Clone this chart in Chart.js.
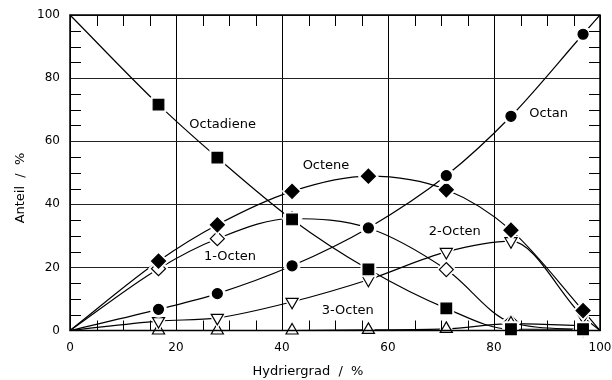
<!DOCTYPE html>
<html>
<head>
<meta charset="utf-8">
<script src="https://cdn.jsdelivr.net/npm/chart.js@4/dist/chart.umd.min.js"></script>
<style>
  html, body { margin: 0; padding: 0; background: #fff; }
  canvas { display: block; }
</style>
</head>
<body>
<canvas id="c" width="612" height="380"></canvas>
<script>
// Hydriergrad (%) of the measured samples
const hydriergrad = [16.7, 27.8, 41.9, 56.3, 71.0, 83.2, 96.8];

// Anteil (%) of each component at those samples
const octadiene = [71.6, 54.8, 35.2, 19.4, 7.0, 0.4, 0.4];
const octan     = [6.7, 11.7, 20.5, 32.5, 49.1, 67.9, 93.9];
const octene    = [22.0, 33.5, 44.1, 48.9, 44.6, 31.8, 6.3];
const octen1    = [19.6, 29.1, 35.5, 32.5, 19.3, 2.6, 0.3];
const octen2    = [3.0, 4.0, 9.1, 16.1, 24.9, 28.3, 4.4];
const octen3    = [0.0, 0.0, 0.0, 0.2, 0.5, 2.2, 1.5];

// curve values at Hydriergrad 0 % and 100 % (null: curve ends at the last sample)
const octadieneEnds = [100, null];
const octanEnds     = [0, 100];
const octeneEnds    = [0, 0];
const octen1Ends    = [0, null];
const octen2Ends    = [0, 0];
const octen3Ends    = [0, null];

const axisTicks = [0, 20, 40, 60, 80, 100];

// curve names and where they sit (in axis units)
const curveLabels = ['Octadiene', 'Octan', 'Octene', '1-Octen', '2-Octen', '3-Octen'];
const labelX      = [28.8, 90.3, 48.3, 30.2, 72.6, 52.4];
const labelY      = [65.2, 68.8, 52.1, 23.5, 31.2, 6.2];

const xTitle = 'Hydriergrad  /  %';
const yTitle = 'Anteil  /  %';

const FONT = '"DejaVu Sans", sans-serif';

// marker look per series, listed from the bottom layer to the top layer
const series = [
  { values: octen1,    ends: octen1Ends,    style: 'rectRot',  fill: '#fff', r: 7,   rot: 0 },
  { values: octen3,    ends: octen3Ends,    style: 'triangle', fill: '#fff', r: 7,   rot: 0 },
  { values: octen2,    ends: octen2Ends,    style: 'triangle', fill: '#fff', r: 7,   rot: 180 },
  { values: octene,    ends: octeneEnds,    style: 'rectRot',  fill: '#000', r: 7,   rot: 0 },
  { values: octan,     ends: octanEnds,     style: 'circle',   fill: '#000', r: 5,   rot: 0 },
  { values: octadiene, ends: octadieneEnds, style: 'rect',     fill: '#000', r: 7.5, rot: 0 }
];

const datasets = [];
series.forEach((s, i) => {
  const pts = hydriergrad.map((x, k) => ({ x, y: s.values[k] }));
  const curve = pts.slice();
  if (s.ends[0] !== null) curve.unshift({ x: 0, y: s.ends[0] });
  if (s.ends[1] !== null) curve.push({ x: 100, y: s.ends[1] });
  const layer = 2 * (series.length - i);

  // smooth connecting curve
  datasets.push({
    data: curve, showLine: true, order: 100,
    borderColor: '#000', borderWidth: 1.2,
    pointRadius: 0, cubicInterpolationMode: 'monotone', clip: 2
  });
  // white halo that opens a small gap in the curves around each marker
  datasets.push({
    data: pts, showLine: false, order: layer, clip: false,
    pointStyle: s.style, pointRotation: s.rot, pointRadius: s.r + 3,
    pointBackgroundColor: '#fff', pointBorderColor: '#fff', pointBorderWidth: 1
  });
  // the marker itself
  datasets.push({
    data: pts, showLine: false, order: layer - 1, clip: false,
    pointStyle: s.style, pointRotation: s.rot, pointRadius: s.r,
    pointBackgroundColor: s.fill, pointBorderColor: '#000', pointBorderWidth: 1.2
  });
});

// frame, inner minor ticks, curve names and axis titles
const decorations = {
  id: 'decorations',
  afterDraw(chart) {
    const { ctx, chartArea: a, scales: { x, y } } = chart;
    ctx.save();
    ctx.strokeStyle = '#000';
    ctx.lineWidth = 1;
    ctx.beginPath();
    for (let v = 5; v < 100; v += 5) {
      if (v % 20 === 0) continue;
      const px = Math.round(x.getPixelForValue(v)) + 0.5;
      const py = Math.round(y.getPixelForValue(v)) + 0.5;
      ctx.moveTo(px, a.top);    ctx.lineTo(px, a.top + 11);
      ctx.moveTo(px, a.bottom); ctx.lineTo(px, a.bottom - 10);
      ctx.moveTo(a.left, py);   ctx.lineTo(a.left + 11, py);
      ctx.moveTo(a.right, py);  ctx.lineTo(a.right - 11, py);
    }
    ctx.stroke();
    ctx.lineWidth = 1.5;
    ctx.strokeRect(a.left, a.top, a.right - a.left, a.bottom - a.top);

    ctx.fillStyle = '#000';
    ctx.font = '13px ' + FONT;
    ctx.textAlign = 'center';
    ctx.textBaseline = 'middle';
    curveLabels.forEach((t, i) => {
      ctx.fillText(t, x.getPixelForValue(labelX[i]), y.getPixelForValue(labelY[i]));
    });

    ctx.fillText(xTitle, 308, 372);
    ctx.translate(21, 188);
    ctx.rotate(-Math.PI / 2);
    ctx.fillText(yTitle, 0, 0);
    ctx.restore();
  }
};

const tickFont = { family: FONT, size: 12 };

// fixed axis band sizes; edge labels may hang into the outer margin
const fitX = s => { s.height = 49.5; s.paddingLeft = 0; s.paddingRight = 0; };
const fitY = s => { s.width = 70; s.paddingTop = 0; s.paddingBottom = 0; };

new Chart(document.getElementById('c'), {
  type: 'scatter',
  data: { datasets },
  plugins: [decorations],
  options: {
    responsive: false,
    devicePixelRatio: 1,
    animation: false,
    events: [],
    layout: { padding: { top: 15, right: 12, left: 0, bottom: 0 } },
    plugins: { legend: { display: false }, tooltip: { enabled: false } },
    scales: {
      x: {
        type: 'linear', min: 0, max: 100,
        afterBuildTicks: s => { s.ticks = axisTicks.map(v => ({ value: v })); },
        afterFit: fitX,
        ticks: { font: tickFont, color: '#000', padding: 10, maxRotation: 0 },
        grid: { color: '#000', lineWidth: 1, drawTicks: false },
        border: { display: false }
      },
      y: {
        type: 'linear', min: 0, max: 100,
        afterBuildTicks: s => { s.ticks = axisTicks.map(v => ({ value: v })); },
        afterFit: fitY,
        ticks: { font: tickFont, color: '#000', padding: 10 },
        grid: { color: '#222', lineWidth: 1, drawTicks: false },
        border: { display: false }
      }
    }
  }
});
</script>
</body>
</html>
